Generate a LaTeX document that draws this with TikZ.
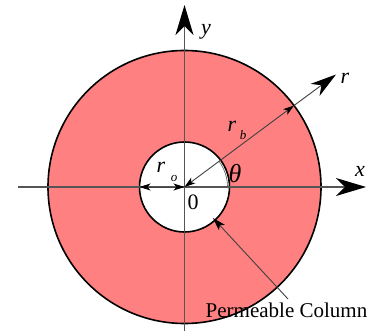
\documentclass[tikz,border=0pt]{standalone}
\usepackage{fontspec}
\setmainfont{Liberation Serif}
\usetikzlibrary{arrows.meta}
\definecolor{ring}{RGB}{255,128,128}
\definecolor{axisgray}{RGB}{85,85,85}
\begin{document}
\begin{tikzpicture}[x=1pt,y=-1pt,
  axis/.style={draw=axisgray, line width=1.2pt},
  bighead/.style={-{Stealth[length=30pt,width=18pt,inset=9pt,color=black]}},
  thinline/.style={draw=black!75, line width=0.9pt},
  lbl/.style={font=\fontsize{22}{22}\selectfont\itshape, inner sep=0pt},
  sub/.style={font=\fontsize{13}{13}\selectfont\itshape, inner sep=0pt},
]
\useasboundingbox (0,0) rectangle (377,331);
\coordinate (O) at (184.5,187);
% rings
\draw[fill=ring, line width=1.6pt] (O) circle (136.5);
\draw[fill=white, line width=1.6pt] (O) circle (45);
% axes
\coordinate (xl) at (18,187);
\coordinate (xr) at (366,187);
\coordinate (yb) at (184.5,331);
\coordinate (yt) at (184.5,5);
\draw[axis, bighead] (xl) -- (xr);
\draw[axis, bighead] (yb) -- (yt);
% r_o
\coordinate (ri) at (139.5,187);
\draw[thinline, {Stealth[length=11pt,width=7pt,inset=3pt,color=black]}-{Stealth[length=11pt,width=7pt,inset=3pt,color=black]}] (ri) -- (O);
% r_b and r
\coordinate (B) at (294,105.5);
\coordinate (rt) at (336,74.5);
\draw[thinline, {Stealth[length=11pt,width=7pt,inset=3pt,color=black]}-{Stealth[length=11pt,width=7pt,inset=3pt,color=black]}] (O) -- (B);
\draw[thinline, -{Stealth[length=26pt,width=15pt,inset=8pt,color=black]}] (B) -- (rt);
% theta arc
\coordinate (a0) at (227.5,187);
\draw[draw=axisgray, line width=0.6pt] (a0) arc[start angle=0, end angle=-36.66, radius=43];
% permeable column leader
\coordinate (P) at (213,218);
\coordinate (Q) at (288,299);
\draw[thinline, {Stealth[length=13pt,width=8pt,inset=3pt,color=black]}-] (P) -- (Q);
% labels
\node[lbl] (ylab) at (206,32) {y};
\node[lbl] (xlab) at (360,171) {x};
\node[lbl] (rlab) at (345,78) {r};
\node[lbl] (rblab) at (232,126) {r};
\node[sub] (rbsub) at (243,135) {b};
\node[lbl] (rolab) at (161,167) {r};
\node[sub] (rosub) at (174,179) {o};
\node[font=\fontsize{26}{26}\selectfont\itshape, inner sep=0pt] (thlab) at (235,174) {θ};
\node[font=\fontsize{22}{22}\selectfont, inner sep=0pt] (zero) at (193,202) {0};
\node[font=\fontsize{21}{21}\selectfont, inner sep=0pt, anchor=base] (pc) at (286.5,317) {Permeable Column};
\end{tikzpicture}
\end{document}
